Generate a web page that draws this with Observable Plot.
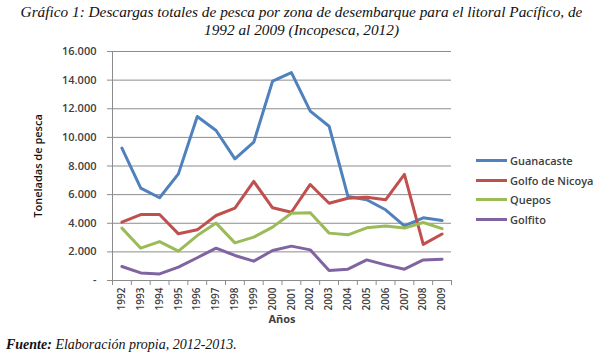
<!DOCTYPE html>
<html>
<head>
<meta charset="utf-8">
<script src="https://cdn.jsdelivr.net/npm/d3@7"></script>
<script src="https://cdn.jsdelivr.net/npm/@observablehq/plot@0.6"></script>
<style>
  html, body { margin: 0; padding: 0; background: #fff; }
  #wrap { position: relative; width: 603px; height: 354px; overflow: hidden; background: #fff; }
  #chart { position: absolute; left: 0; top: 0; }
  #title { position: absolute; left: 0; top: 3px; width: 603px; text-align: center;
           font-family: "Liberation Serif", "DejaVu Serif", serif; font-style: italic; font-size: 15.3px; line-height: 18px; color: #111; }
  #caption { position: absolute; left: 6px; top: 337px; font-family: "Liberation Serif", serif; font-style: italic; font-size: 14px; color: #111; }
  #legend { position: absolute; left: 476px; top: 151px; font-family: "Open Sans", sans-serif; font-size: 11px; font-weight: 600; color: #404040; }
  #legend .row { height: 19.5px; display: flex; align-items: center; }
  #legend .sw { display: inline-block; width: 31px; height: 3px; margin-right: 3px; }
</style>
</head>
<body>
<div id="wrap">
  <div id="chart"></div>
  <div id="title">Gráfico 1: Descargas totales de pesca por zona de desembarque para el litoral Pacífico, de<br>1992 al 2009 (Incopesca, 2012)</div>
  <div id="legend"></div>
  <div id="caption"><b>Fuente:</b> Elaboración propia, 2012-2013.</div>
</div>
<script>
const years = [1992,1993,1994,1995,1996,1997,1998,1999,2000,2001,2002,2003,2004,2005,2006,2007,2008,2009];
const guanacaste = [9250,6450,5780,7450,11460,10480,8500,9660,13930,14530,11830,10780,5870,5640,4940,3820,4380,4190];
const golfoNicoya = [4080,4610,4610,3260,3540,4540,5050,6920,5080,4770,6710,5400,5750,5820,5640,7410,2520,3250];
const quepos = [3660,2260,2720,2050,3140,4010,2630,3030,3730,4700,4730,3310,3190,3680,3800,3660,4050,3620];
const golfito = [980,530,460,930,1590,2260,1750,1350,2100,2400,2140,700,790,1440,1090,790,1440,1490];
const seriesNames = ["Guanacaste","Golfo de Nicoya","Quepos","Golfito"];
const seriesColors = ["#4f81bd","#c0504d","#9bbb59","#8064a2"];
const yTicks = [0,2000,4000,6000,8000,10000,12000,14000,16000];
const yLabel = "Toneladas de pesca";
const xLabel = "Años";

const seriesValues = [guanacaste, golfoNicoya, quepos, golfito];
const data = seriesNames.flatMap((s, i) => years.map((yr, j) => ({year: yr, value: seriesValues[i][j], series: s})));
const boundaries = [...years.map(y => y - 0.5), years[years.length - 1] + 0.5];
const fmt = d => d === 0 ? "-" : d3.format(",")(d).replace(/,/g, ".");
const gray = "#8c8c8c";

const chart = Plot.plot({
  width: 603, height: 354,
  marginTop: 51, marginBottom: 74, marginLeft: 112, marginRight: 152,
  x: {type: "linear", domain: [years[0] - 0.5, years[years.length - 1] + 0.5]},
  y: {domain: [0, 16000]},
  color: {domain: seriesNames, range: seriesColors},
  style: {fontFamily: "Open Sans", fontSize: "11px", fontWeight: 600, color: "#404040", background: "transparent"},
  marks: [
    Plot.gridY(yTicks, {stroke: gray, strokeOpacity: 1, strokeWidth: 1}),
    Plot.axisY(yTicks, {tickSize: 5, tickPadding: 11, tickFormat: fmt, label: null, stroke: gray}),
    Plot.ruleX([years[0] - 0.5], {stroke: gray}),
    Plot.ruleY([0], {stroke: gray}),
    Plot.axisX(years, {tickSize: 0, tickRotate: -90, tickPadding: 7, tickFormat: d => String(d), label: null, fontSize: 10}),
    Plot.axisX(boundaries, {tickSize: 5, tickFormat: () => "", label: null, stroke: gray}),
    Plot.text([yLabel], {frameAnchor: "left", textAnchor: "middle", rotate: -90, dx: -74, fontSize: 11, fontWeight: 600, fill: "#111"}),
    Plot.text([xLabel], {frameAnchor: "bottom", dy: 42, fontSize: 11, fontWeight: 700, fill: "#404040"}),
    Plot.lineY(data, {x: "year", y: "value", stroke: "series", z: "series", strokeWidth: 3})
  ]
});
document.getElementById("chart").appendChild(chart);

const legend = document.getElementById("legend");
seriesNames.forEach((s, i) => {
  const row = document.createElement("div");
  row.className = "row";
  const sw = document.createElement("span");
  sw.className = "sw";
  sw.style.background = seriesColors[i];
  row.appendChild(sw);
  row.appendChild(document.createTextNode(s));
  legend.appendChild(row);
});
</script>
</body>
</html>
